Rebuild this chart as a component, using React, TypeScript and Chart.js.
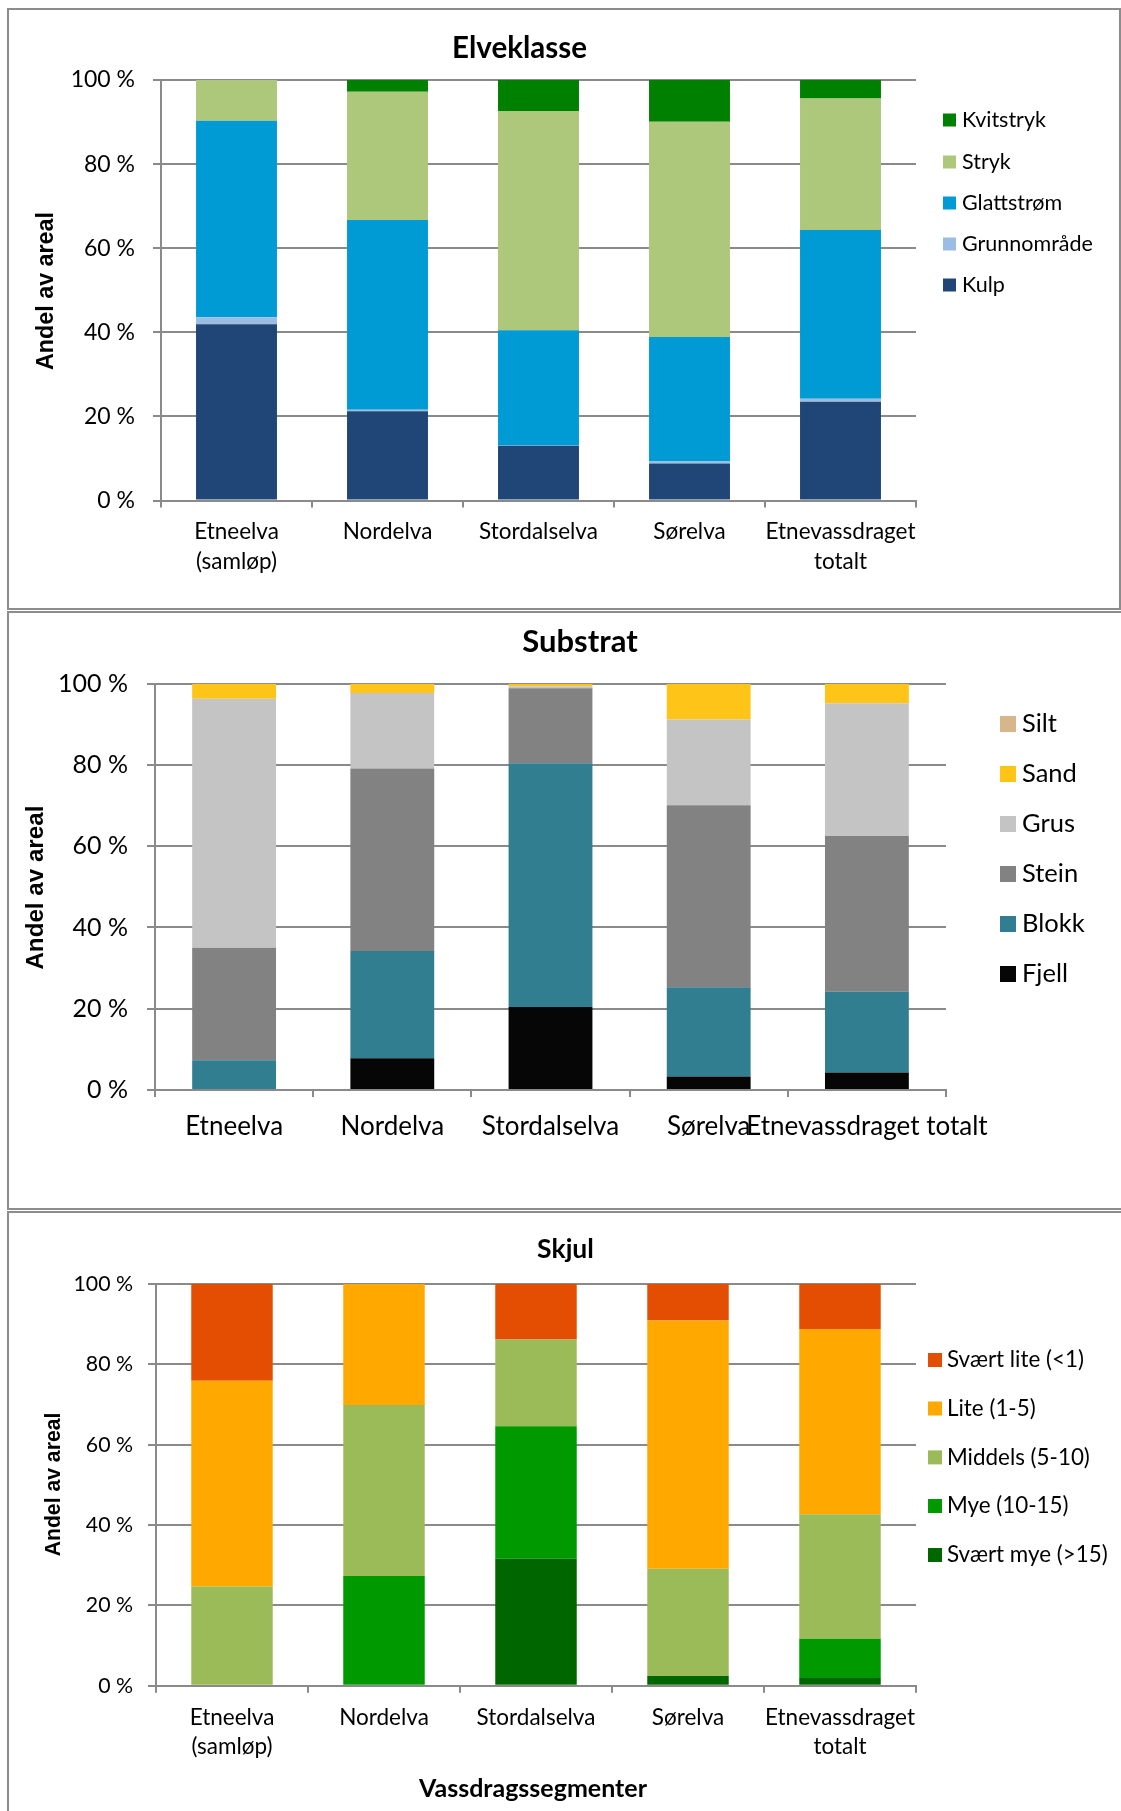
import React, { useEffect, useRef } from "react";
import { Chart, registerables } from "chart.js";

Chart.register(...registerables);

const FONT = "Lato, 'Open Sans', sans-serif";
const AXIS_TITLE_FONT = "'Liberation Sans', Arial, sans-serif";
const GRID = "#8a8a8a";

// ---------- Elveklasse ----------
const elvCategories = [["Etneelva", "(samløp)"], "Nordelva", "Stordalselva", "Sørelva", ["Etnevassdraget", "totalt"]];
const elvKulp = [41.9, 21.2, 13.0, 8.8, 23.5];
const elvGrunnomrade = [1.7, 0.4, 0.1, 0.5, 0.7];
const elvGlattstrom = [46.7, 45.1, 27.4, 29.6, 40.1];
const elvStryk = [9.7, 30.5, 52.1, 51.2, 31.3];
const elvKvitstryk = [0, 2.8, 7.4, 9.9, 4.4];

// ---------- Substrat ----------
const subCategories = ["Etneelva", "Nordelva", "Stordalselva", "Sørelva", "Etnevassdraget totalt"];
const subFjell = [0, 7.8, 20.4, 3.3, 4.3];
const subBlokk = [7.3, 26.4, 60.0, 22.0, 19.9];
const subStein = [27.7, 44.9, 18.5, 44.8, 38.3];
const subGrus = [61.3, 18.6, 0.5, 21.1, 32.7];
const subSand = [3.7, 2.3, 0.5, 8.8, 4.8];
const subSilt = [0, 0, 0.1, 0, 0];

// ---------- Skjul ----------
const skjCategories = [["Etneelva", "(samløp)"], "Nordelva", "Stordalselva", "Sørelva", ["Etnevassdraget", "totalt"]];
const skjSvaertMye = [0, 0, 31.6, 2.4, 1.9];
const skjMye = [0, 27.3, 33.0, 0, 9.8];
const skjMiddels = [24.7, 42.6, 21.6, 26.7, 31.0];
const skjLite = [51.2, 30.1, 0, 61.8, 46.1];
const skjSvaertLite = [24.1, 0, 13.8, 9.1, 11.2];

const yTicks = [0, 20, 40, 60, 80, 100];

const decorPlugin = {
  id: "decor",
  afterDraw(chart: any, _args: any, opts: any) {
    const ctx = chart.ctx;
    ctx.save();
    ctx.fillStyle = "#000";
    if (opts.title) {
      const t = opts.title;
      ctx.font = t.font;
      ctx.textAlign = "center";
      ctx.textBaseline = "middle";
      ctx.fillText(t.text, t.x, t.y);
    }
    if (opts.xTitle) {
      const t = opts.xTitle;
      ctx.font = t.font;
      ctx.textAlign = "center";
      ctx.textBaseline = "middle";
      ctx.fillText(t.text, t.x, t.y);
    }
    if (opts.yTitle) {
      const t = opts.yTitle;
      ctx.save();
      ctx.translate(t.x, t.y);
      ctx.rotate(-Math.PI / 2);
      ctx.font = t.font;
      ctx.textAlign = "center";
      ctx.textBaseline = "middle";
      ctx.fillText(t.text, 0, 0);
      ctx.restore();
    }
    if (opts.legend) {
      const L = opts.legend;
      const ds = chart.data.datasets.slice().reverse();
      ds.forEach((d: any, i: number) => {
        const cy = L.ys[i];
        ctx.fillStyle = d.backgroundColor;
        ctx.fillRect(L.x, cy - L.size / 2, L.size, L.size);
        ctx.fillStyle = "#000";
        ctx.font = L.font;
        ctx.textAlign = "left";
        ctx.textBaseline = "middle";
        ctx.fillText(d.label, L.textX, cy);
      });
    }
    ctx.restore();
  },
};

type PanelSpec = {
  top: number;
  height: number;
  labels: any[];
  datasets: { label: string; data: number[]; color: string }[];
  plotLeft: number;
  plotRight: number;
  plotTop: number;
  plotBottom: number;
  barPct: number;
  tickFont: number;
  tickPad: number;
  catFont: number;
  catPad: number;
  catLineHeight: number;
  decor: any;
};

function makeConfig(p: PanelSpec): any {
  const xH = 80;
  return {
    type: "bar",
    data: {
      labels: p.labels,
      datasets: p.datasets.map((d) => ({
        label: d.label,
        data: d.data,
        backgroundColor: d.color,
        borderWidth: 0,
        categoryPercentage: 1,
        barPercentage: p.barPct,
      })),
    },
    options: {
      responsive: false,
      animation: false,
      devicePixelRatio: 1,
      layout: {
        padding: {
          left: 0,
          top: p.plotTop,
          right: 1121 - p.plotRight,
          bottom: p.height - p.plotBottom - xH,
        },
      },
      plugins: {
        legend: { display: false },
        title: { display: false },
        tooltip: { enabled: false },
        decor: p.decor,
      },
      scales: {
        x: {
          stacked: true,
          grid: { drawOnChartArea: false, drawTicks: true, tickLength: 7, color: GRID, lineWidth: 2, offset: true },
          border: { color: GRID, width: 2 },
          ticks: {
            color: "#000",
            font: { family: FONT, size: p.catFont, lineHeight: p.catLineHeight },
            padding: p.catPad,
            autoSkip: false,
            maxRotation: 0,
            minRotation: 0,
          },
          afterFit: (s: any) => {
            s.height = xH;
          },
        },
        y: {
          stacked: true,
          min: 0,
          max: 100,
          afterBuildTicks: (s: any) => {
            s.ticks = yTicks.map((v) => ({ value: v }));
          },
          ticks: {
            color: "#000",
            font: { family: FONT, size: p.tickFont },
            padding: p.tickPad,
            callback: (v: any) => v + " %",
          },
          grid: { color: GRID, lineWidth: 2, tickLength: 8 },
          border: { color: GRID, width: 2 },
          afterFit: (s: any) => {
            s.width = p.plotLeft;
          },
        },
      },
    },
    plugins: [decorPlugin],
  };
}

const panel1: PanelSpec = {
  top: 0,
  height: 610,
  labels: elvCategories,
  datasets: [
    { label: "Kulp", data: elvKulp, color: "#1f4677" },
    { label: "Grunnområde", data: elvGrunnomrade, color: "#9bbde4" },
    { label: "Glattstrøm", data: elvGlattstrom, color: "#009bd5" },
    { label: "Stryk", data: elvStryk, color: "#adc77b" },
    { label: "Kvitstryk", data: elvKvitstryk, color: "#008000" },
  ],
  plotLeft: 161,
  plotRight: 916,
  plotTop: 80,
  plotBottom: 500.5,
  barPct: 0.536,
  tickFont: 23,
  tickPad: 18,
  catFont: 22.5,
  catPad: 10,
  catLineHeight: 1.3,
  decor: {
    title: { text: "Elveklasse", x: 519.5, y: 48.5, font: `bold 29.5px ${FONT}` },
    yTitle: { text: "Andel av areal", x: 47, y: 291, font: `bold 23.3px ${AXIS_TITLE_FONT}` },
    legend: { x: 943, size: 13, textX: 962, ys: [120, 162, 203, 244, 285], font: `21.5px ${FONT}` },
  },
};

const panel2: PanelSpec = {
  top: 611,
  height: 599,
  labels: subCategories,
  datasets: [
    { label: "Fjell", data: subFjell, color: "#060606" },
    { label: "Blokk", data: subBlokk, color: "#317e91" },
    { label: "Stein", data: subStein, color: "#828282" },
    { label: "Grus", data: subGrus, color: "#c4c4c4" },
    { label: "Sand", data: subSand, color: "#fec418" },
    { label: "Silt", data: subSilt, color: "#d7b68b" },
  ],
  plotLeft: 155,
  plotRight: 946,
  plotTop: 72.7,
  plotBottom: 479,
  barPct: 0.53,
  tickFont: 25,
  tickPad: 19,
  catFont: 26,
  catPad: 14,
  catLineHeight: 1.2,
  decor: {
    title: { text: "Substrat", x: 580, y: 30.5, font: `bold 31px ${FONT}` },
    yTitle: { text: "Andel av areal", x: 36, y: 276.6, font: `bold 24.2px ${AXIS_TITLE_FONT}` },
    legend: { x: 1000, size: 16, textX: 1022, ys: [113, 163, 213, 263, 313, 363], font: `25.5px ${FONT}` },
  },
};

const panel3: PanelSpec = {
  top: 1211,
  height: 600,
  labels: skjCategories,
  datasets: [
    { label: "Svært mye (>15)", data: skjSvaertMye, color: "#006600" },
    { label: "Mye (10-15)", data: skjMye, color: "#009a00" },
    { label: "Middels (5-10)", data: skjMiddels, color: "#9bbb59" },
    { label: "Lite (1-5)", data: skjLite, color: "#ffa900" },
    { label: "Svært lite (<1)", data: skjSvaertLite, color: "#e44e02" },
  ],
  plotLeft: 156,
  plotRight: 916,
  plotTop: 73,
  plotBottom: 474.7,
  barPct: 0.536,
  tickFont: 21.3,
  tickPad: 15,
  catFont: 22.5,
  catPad: 10,
  catLineHeight: 1.3,
  decor: {
    title: { text: "Skjul", x: 565.5, y: 38.5, font: `bold 26.5px ${FONT}` },
    yTitle: { text: "Andel av areal", x: 54, y: 273.5, font: `bold 21.2px ${AXIS_TITLE_FONT}` },
    xTitle: { text: "Vassdragssegmenter", x: 533, y: 578, font: `bold 25px ${FONT}` },
    legend: { x: 928, size: 14, textX: 947, ys: [149, 197.5, 246.4, 295, 344], font: `22.4px ${FONT}` },
  },
};

function ChartCanvas({ spec }: { spec: PanelSpec }) {
  const ref = useRef<HTMLCanvasElement | null>(null);
  useEffect(() => {
    if (!ref.current) return;
    const chart = new Chart(ref.current, makeConfig(spec));
    return () => chart.destroy();
  }, [spec]);
  return (
    <canvas
      ref={ref}
      width={1121}
      height={spec.height}
      style={{ position: "absolute", left: 0, top: spec.top, width: 1121, height: spec.height }}
    />
  );
}

const border = "2px solid #8c8c8c";

export default function App() {
  return (
    <div
      style={{
        position: "absolute",
        left: 0,
        top: 0,
        width: 1121,
        height: 1811,
        overflow: "hidden",
        background: "#fff",
      }}
    >
      <div style={{ position: "absolute", left: 7, top: 8, width: 1114, height: 602, border, boxSizing: "border-box" }} />
      <div style={{ position: "absolute", left: 7, top: 611, width: 1130, height: 599, border, boxSizing: "border-box" }} />
      <div style={{ position: "absolute", left: 7, top: 1211, width: 1130, height: 640, border, boxSizing: "border-box" }} />
      <ChartCanvas spec={panel1} />
      <ChartCanvas spec={panel2} />
      <ChartCanvas spec={panel3} />
    </div>
  );
}
